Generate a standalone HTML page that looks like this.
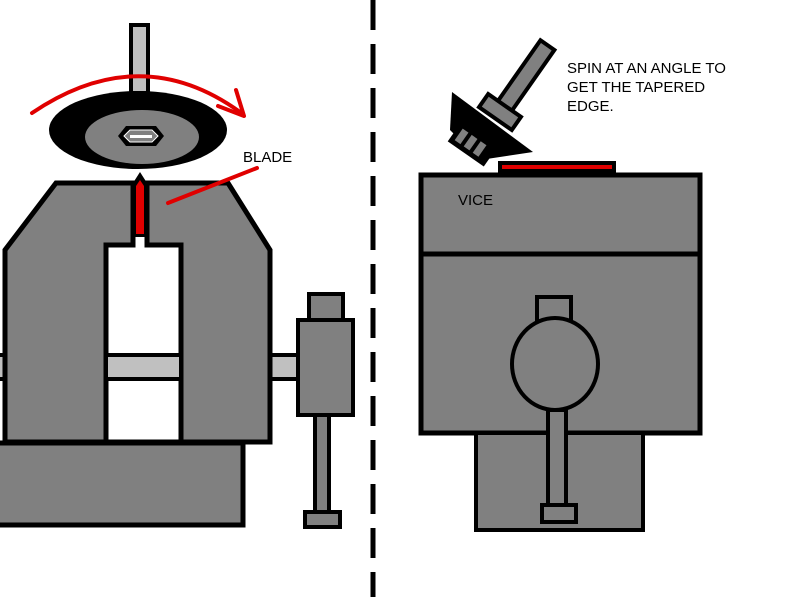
<!DOCTYPE html>
<html><head><meta charset="utf-8"><style>
html,body{margin:0;padding:0;background:#fff;}
svg{display:block;}
text{font-family:"Liberation Sans",sans-serif;font-size:15px;fill:#000;}
</style></head><body>
<svg width="796" height="597" viewBox="0 0 796 597" xmlns="http://www.w3.org/2000/svg">
<!-- bar (behind body) -->
<rect x="-5" y="355" width="305" height="24" fill="#c0c0c0" stroke="#000" stroke-width="4"/>
<!-- left vice body -->
<polygon points="56,183 228,183 270,250 270,442 5,442 5,250" fill="#808080" stroke="#000" stroke-width="5"/>
<!-- slot -->
<polygon points="133,183 147,183 147,245 181,245 181,442 106,442 106,245 133,245" fill="#fff" stroke="#000" stroke-width="5"/>
<rect x="106" y="355" width="75" height="24" fill="#c0c0c0" stroke="#000" stroke-width="4"/>
<!-- base -->
<rect x="-5" y="443" width="248" height="82" fill="#808080" stroke="#000" stroke-width="5"/>
<!-- handle -->
<rect x="309" y="294" width="34" height="26" fill="#808080" stroke="#000" stroke-width="4"/>
<rect x="298" y="320" width="55" height="95" fill="#808080" stroke="#000" stroke-width="4"/>
<rect x="315" y="415" width="14" height="97" fill="#808080" stroke="#000" stroke-width="4"/>
<rect x="305" y="512" width="35" height="15" fill="#808080" stroke="#000" stroke-width="4"/>
<!-- blade -->
<polygon points="133,183 140,172 147,183 147,237 133,237" fill="#000"/>
<polygon points="136,186 140,180 144,186 144,234 136,234" fill="#e00000"/>
<!-- spindle -->
<rect x="131" y="25" width="17" height="68" fill="#c0c0c0" stroke="#000" stroke-width="4"/>
<!-- disc -->
<ellipse cx="138" cy="130" rx="89" ry="39" fill="#000"/>
<ellipse cx="142" cy="137" rx="57" ry="27" fill="#808080"/>
<polygon points="118,136 126,126 156,126 164,136 156,146 126,146" fill="#000"/>
<polygon points="124,136 130,130 152,130 158,136 152,142 130,142" fill="#808080" stroke="#fff" stroke-width="1"/>
<rect x="130" y="135" width="22" height="3" fill="#fff"/>
<!-- red arrow -->
<path d="M32,113 Q140,40 240,112" fill="none" stroke="#e00000" stroke-width="4" stroke-linecap="round"/>
<path d="M236,90 L244,116 L218,106" fill="none" stroke="#e00000" stroke-width="4" stroke-linecap="round" stroke-linejoin="round"/>
<line x1="168" y1="203" x2="257" y2="168" stroke="#e00000" stroke-width="4" stroke-linecap="round"/>
<text x="243" y="162">BLADE</text>
<!-- dashed divider -->
<line x1="373" y1="0" x2="373" y2="597" stroke="#000" stroke-width="5" stroke-dasharray="30,14"/>
<!-- right vice -->
<rect x="498" y="161" width="118" height="14" fill="#000"/>
<rect x="502" y="165" width="110" height="4" fill="#e00000"/>
<rect x="421" y="175" width="279" height="79" fill="#808080" stroke="#000" stroke-width="5"/>
<rect x="421" y="254" width="279" height="179" fill="#808080" stroke="#000" stroke-width="5"/>
<rect x="476" y="433" width="167" height="97" fill="#808080" stroke="#000" stroke-width="4"/>
<rect x="537" y="297" width="34" height="24" fill="#808080" stroke="#000" stroke-width="4"/>
<ellipse cx="555" cy="364" rx="43" ry="46" fill="#808080" stroke="#000" stroke-width="4"/>
<rect x="548" y="410" width="18" height="96" fill="#808080" stroke="#000" stroke-width="4"/>
<rect x="542" y="505" width="34" height="17" fill="#808080" stroke="#000" stroke-width="4"/>
<text x="458" y="205">VICE</text>
<!-- angled tool -->
<g transform="translate(500,112) rotate(35)">
<rect x="-8" y="-82" width="17" height="76" fill="#808080" stroke="#000" stroke-width="4"/>
</g>
<polygon points="452,92 533,152 480,160 450,130" fill="#000"/>
<g transform="translate(500,112) rotate(35)">
<rect x="-20" y="-8" width="40" height="16" fill="#808080" stroke="#000" stroke-width="4"/>
<rect x="-26" y="30" width="44" height="24" fill="#000"/>
<rect x="-21" y="35" width="7" height="14" fill="#808080"/>
<rect x="-10" y="35" width="7" height="14" fill="#808080"/>
<rect x="1" y="35" width="7" height="14" fill="#808080"/>
</g>
<text x="567" y="73">SPIN AT AN ANGLE TO</text>
<text x="567" y="92">GET THE TAPERED</text>
<text x="567" y="111">EDGE.</text>
</svg>
</body></html>
